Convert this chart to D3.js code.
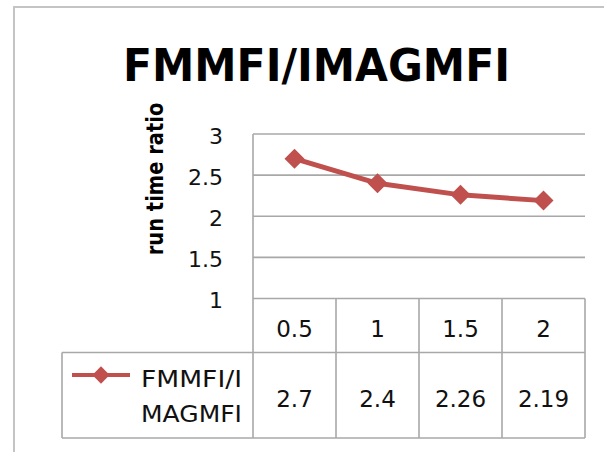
<!DOCTYPE html>
<html>
<head>
<meta charset="utf-8">
<script src="https://cdn.jsdelivr.net/npm/d3@7"></script>
<style>
  html, body { margin: 0; padding: 0; background: #fff; }
  svg { display: block; }
  text { font-family: "DejaVu Sans", sans-serif; }
</style>
</head>
<body>
<svg id="chart" width="604" height="452"></svg>
<script>
const title = "FMMFI/IMAGMFI";
const yAxisTitle = "run time ratio";
const seriesName = ["FMMFI/I", "MAGMFI"];
const categories = ["0.5", "1", "1.5", "2"];
const values = [2.7, 2.4, 2.26, 2.19];
const valueLabels = ["2.7", "2.4", "2.26", "2.19"];
const yTicks = [1, 1.5, 2, 2.5, 3];

const red = "#C0504D";
const gridColor = "#a8a8a8";
const svg = d3.select("#chart");

// outer chart frame (extends beyond the crop)
svg.append("rect")
  .attr("x", 14).attr("y", 7).attr("width", 640).attr("height", 480)
  .attr("fill", "#fff").attr("stroke", "#c4c4c4").attr("stroke-width", 2);

// title
svg.append("text")
  .attr("x", 316.5).attr("y", 80.5)
  .attr("text-anchor", "middle")
  .attr("font-size", 44).attr("font-weight", "bold").attr("fill", "#000")
  .attr("textLength", 387).attr("lengthAdjust", "spacingAndGlyphs")
  .text(title);

const plotLeft = 253, plotRight = 585;
const y = d3.scaleLinear().domain([1, 3]).range([298.5, 134]);
const x = d3.scaleBand().domain(categories).range([plotLeft, plotRight]);
const catRowBottom = 352.5, dataRowBottom = 438, legendLeft = 62;

// gridlines
svg.append("g").selectAll("line")
  .data(yTicks.filter(t => t > 1))
  .join("line")
  .attr("x1", plotLeft).attr("x2", plotRight)
  .attr("y1", d => y(d)).attr("y2", d => y(d))
  .attr("stroke", gridColor).attr("stroke-width", 1.6);

// y axis tick labels
const yAxis = d3.axisLeft(y).tickValues(yTicks).tickSize(0).tickPadding(30)
  .tickFormat(d3.format("~g"));
const gy = svg.append("g").attr("transform", `translate(${plotLeft},0)`).call(yAxis);
gy.select(".domain").remove();
gy.selectAll("text")
  .attr("font-family", "DejaVu Sans, sans-serif")
  .attr("font-size", 22).attr("fill", "#111").attr("dy", "0.42em");

// y axis title
svg.append("text")
  .attr("transform", "translate(163,179) scale(1.2,1) rotate(-90)")
  .attr("text-anchor", "middle")
  .attr("font-size", 19.5).attr("font-weight", "bold").attr("fill", "#000")
  .text(yAxisTitle);

// table lines
const tbl = svg.append("g").attr("stroke", gridColor).attr("stroke-width", 1.6).attr("fill", "none");
tbl.append("line").attr("x1", plotLeft).attr("x2", plotRight).attr("y1", y(1)).attr("y2", y(1));
tbl.append("line").attr("x1", plotLeft).attr("x2", plotLeft).attr("y1", y(3)).attr("y2", dataRowBottom);
tbl.selectAll(".vdiv").data(categories.slice(1).concat(["__end"]))
  .join("line")
  .attr("x1", d => d === "__end" ? plotRight : x(d))
  .attr("x2", d => d === "__end" ? plotRight : x(d))
  .attr("y1", y(1)).attr("y2", dataRowBottom);
tbl.append("line").attr("x1", legendLeft).attr("x2", plotRight).attr("y1", catRowBottom).attr("y2", catRowBottom);
tbl.append("line").attr("x1", legendLeft).attr("x2", plotRight).attr("y1", dataRowBottom).attr("y2", dataRowBottom);
tbl.append("line").attr("x1", legendLeft).attr("x2", legendLeft).attr("y1", catRowBottom).attr("y2", dataRowBottom);

// category labels
svg.append("g").selectAll("text").data(categories).join("text")
  .attr("x", d => x(d) + x.bandwidth() / 2).attr("y", 336.5)
  .attr("text-anchor", "middle").attr("font-size", 23).attr("fill", "#111")
  .text(d => d);

// value labels
svg.append("g").selectAll("text").data(categories).join("text")
  .attr("x", d => x(d) + x.bandwidth() / 2).attr("y", 406.5)
  .attr("text-anchor", "middle").attr("font-size", 23).attr("fill", "#111")
  .text((d, i) => valueLabels[i]);

// legend key
svg.append("line").attr("x1", 72).attr("x2", 130).attr("y1", 375).attr("y2", 375)
  .attr("stroke", red).attr("stroke-width", 4);
svg.append("path").attr("d", d3.symbol(d3.symbolSquare, 150)())
  .attr("transform", "translate(101,375) rotate(45)").attr("fill", red);
svg.append("g").selectAll("text").data(seriesName).join("text")
  .attr("x", 242).attr("y", (d, i) => i === 0 ? 387 : 421.5)
  .attr("text-anchor", "end").attr("font-size", 23).attr("fill", "#111")
  .attr("textLength", 101).attr("lengthAdjust", "spacingAndGlyphs")
  .text(d => d);

// series line
const pts = categories.map((c, i) => [x(c) + x.bandwidth() / 2, y(values[i])]);
svg.append("path").attr("d", d3.line()(pts))
  .attr("fill", "none").attr("stroke", red).attr("stroke-width", 5)
  .attr("stroke-linejoin", "round");
svg.append("g").selectAll("path").data(pts).join("path")
  .attr("d", d3.symbol(d3.symbolSquare, 200)())
  .attr("transform", d => `translate(${d[0]},${d[1]}) rotate(45)`)
  .attr("fill", red);
</script>
</body>
</html>
